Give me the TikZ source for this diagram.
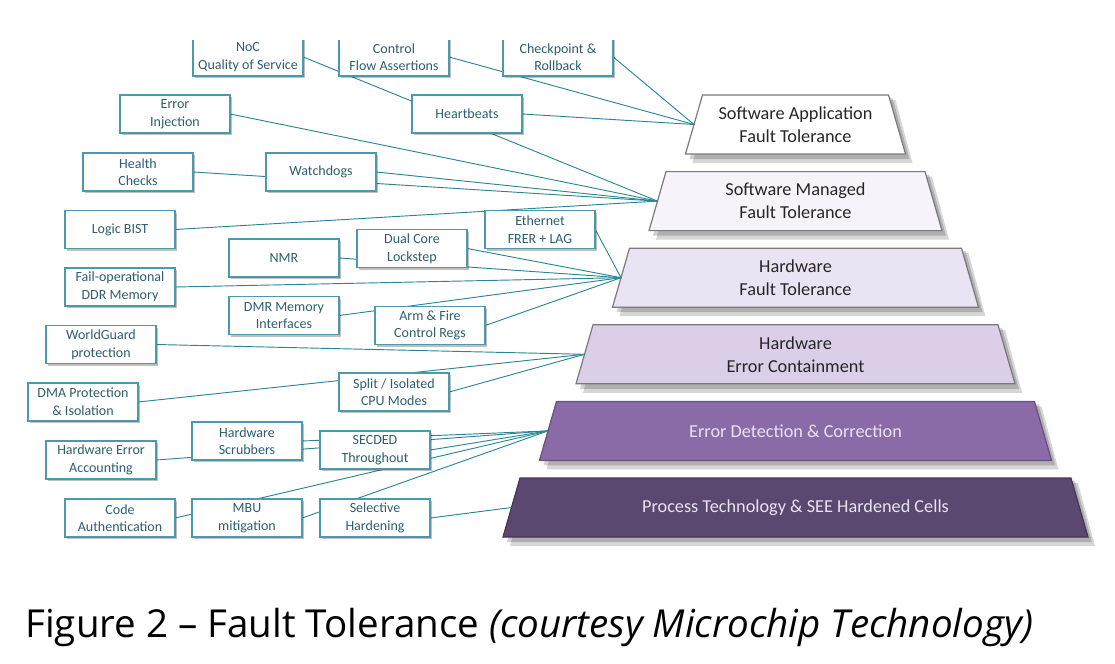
\documentclass[tikz,border=0pt]{standalone}
\usepackage{fontspec}
\setmainfont{Carlito}
\newfontfamily\capfont{Open Sans}
\usetikzlibrary{shadows}
\definecolor{boxc}{HTML}{4A9AAB}
\definecolor{linec}{HTML}{2B8597}
\definecolor{boxtext}{HTML}{2E5E6E}
\definecolor{laytext}{HTML}{262626}
\definecolor{layA}{HTML}{FFFFFF}
\definecolor{layB}{HTML}{F6F3FB}
\definecolor{layC}{HTML}{EAE3F3}
\definecolor{layD}{HTML}{DACFE6}
\definecolor{layE}{HTML}{8A6BA8}
\definecolor{layF}{HTML}{5B4870}
\definecolor{layborder}{HTML}{7A7A7A}
\definecolor{lighttext}{HTML}{E8E3F0}
\newcommand{\pyrlayer}[7]{%
  \pgfmathsetmacro{\lyt}{95+76.6*#2}
  \pgfmathsetmacro{\lyb}{\lyt+59}
  \pgfmathsetmacro{\lhb}{110+36.5*#2}
  \pgfmathsetmacro{\lht}{\lhb-17}
  \fill[black, opacity=0.16] (802.5-\lht,\lyt+5) -- (802.5+\lht,\lyt+5) -- (802.5+\lhb,\lyb+9) -- (802.5-\lhb,\lyb+9) -- cycle;
  \fill[black, opacity=0.18] (799.5-\lht,\lyt+3) -- (799.5+\lht,\lyt+3) -- (799.5+\lhb,\lyb+5) -- (799.5-\lhb,\lyb+5) -- cycle;
  \draw[fill=#3, draw=#4, line width=0.9pt] (795.5-\lht,\lyt) -- (795.5+\lht,\lyt) -- (795.5+\lhb,\lyb) -- (795.5-\lhb,\lyb) -- cycle;
  \node[text=#5, layfont, align=center] (#1) at (795.5,\lyt+29.5) {#6};
  \coordinate (#7) at (795.5-\lhb+8.5,\lyt+29.5);
}
\begin{document}
\begin{tikzpicture}[x=0.75pt,y=-0.75pt,
  fbox/.style={draw=boxc, fill=white, line width=0.8pt, text=boxtext,
    minimum width=82.5pt, minimum height=28.5pt, inner sep=0pt, align=center,
    font=\fontsize{10.5}{13.2}\selectfont,
    drop shadow={shadow xshift=1.6pt, shadow yshift=-1.6pt, fill=black, opacity=0.25}},
  layfont/.style={font=\fontsize{13.7}{17.2}\selectfont},
  conn/.style={draw=linec, line width=0.7pt}]
\useasboundingbox (0,0) rectangle (1115,664);

% pyramid layers
\pyrlayer{swapp}{0}{layA}{layborder}{laytext}{Software Application\\Fault Tolerance}{L1in}
\pyrlayer{swman}{1}{layB}{layborder}{laytext}{Software Managed\\Fault Tolerance}{L2in}
\pyrlayer{hwft}{2}{layC}{layborder}{laytext}{Hardware\\Fault Tolerance}{L3in}
\pyrlayer{hwec}{3}{layD}{layborder}{laytext}{Hardware\\Error Containment}{L4in}
\pyrlayer{edc}{4}{layE}{layE!75!black}{lighttext}{Error Detection \& Correction}{L5in}
\pyrlayer{proc}{5}{layF}{layF!75!black}{lighttext}{Process Technology \& SEE Hardened Cells}{L6in}

% box positions
\coordinate (p-noc) at (248,57);
\coordinate (p-cfa) at (394,57);
\coordinate (p-cp) at (558,57);
\coordinate (p-ei) at (175,114);
\coordinate (p-hb) at (467,114);
\coordinate (p-hc) at (138,172);
\coordinate (p-wd) at (321,172);
\coordinate (p-lb) at (120,229.5);
\coordinate (p-eth) at (540,229.5);
\coordinate (p-nmr) at (284,258);
\coordinate (p-dc) at (412,248.5);
\coordinate (p-ddr) at (120,287);
\coordinate (p-dmr) at (284,315.5);
\coordinate (p-af) at (430,325.5);
\coordinate (p-wg) at (101,344.5);
\coordinate (p-dma) at (83,402);
\coordinate (p-split) at (394,392);
\coordinate (p-scr) at (247,441);
\coordinate (p-sec) at (375,450);
\coordinate (p-hea) at (101,460);
\coordinate (p-ca) at (120,518);
\coordinate (p-mbu) at (247,518);
\coordinate (p-sel) at (375,518);

% invisible anchors of the boxes
\begin{scope}[every node/.style={minimum width=82.5pt, minimum height=28.5pt, inner sep=0pt}]
\path node (noc) at (p-noc) {} node (cfa) at (p-cfa) {} node (cp) at (p-cp) {}
  node (ei) at (p-ei) {} node (hb) at (p-hb) {} node (hc) at (p-hc) {}
  node (wd) at (p-wd) {} node (lb) at (p-lb) {} node (eth) at (p-eth) {}
  node (nmr) at (p-nmr) {} node (dc) at (p-dc) {} node (ddr) at (p-ddr) {}
  node (dmr) at (p-dmr) {} node (af) at (p-af) {} node (wg) at (p-wg) {}
  node (dma) at (p-dma) {} node (split) at (p-split) {} node (scr) at (p-scr) {}
  node (sec) at (p-sec) {} node (hea) at (p-hea) {} node (ca) at (p-ca) {}
  node (mbu) at (p-mbu) {} node (sel) at (p-sel) {};
\end{scope}

% connectors
\draw[conn] (cfa.east) -- (L1in);
\draw[conn] (cp.east) -- (L1in);
\draw[conn] (hb.east) -- (L1in);
\draw[conn] (noc.east) -- (L2in);
\draw[conn] (ei.east) -- (L2in);
\draw[conn] (wd.east) -- (L2in);
\draw[conn] (hc.east) -- (L2in);
\draw[conn] (lb.east) -- (L2in);
\draw[conn] (eth.east) -- (L3in);
\draw[conn] (dc.east) -- (L3in);
\draw[conn] (nmr.east) -- (L3in);
\draw[conn] (ddr.east) -- (L3in);
\draw[conn] (dmr.east) -- (L3in);
\draw[conn] (af.east) -- (L3in);
\draw[conn] (wg.east) -- (L4in);
\draw[conn] (dma.east) -- (L4in);
\draw[conn] (split.east) -- (L4in);
\draw[conn] (hea.east) -- (L5in);
\draw[conn] (scr.east) -- (L5in);
\draw[conn] (sec.east) -- (L5in);
\draw[conn] (ca.east) -- (L5in);
\draw[conn] (mbu.east) -- (L5in);
\draw[conn] (sel.east) -- (L6in);

% visible boxes
\node[fbox] (bnoc) at (p-noc) {NoC\\Quality of Service};
\node[fbox] (bcfa) at (p-cfa) {Control\\Flow Assertions};
\node[fbox] (bcp) at (p-cp) {Checkpoint \&\\Rollback};
\node[fbox] (bei) at (p-ei) {Error\\Injection};
\node[fbox] (bhb) at (p-hb) {Heartbeats};
\node[fbox] (bhc) at (p-hc) {Health\\Checks};
\node[fbox] (bwd) at (p-wd) {Watchdogs};
\node[fbox] (blb) at (p-lb) {Logic BIST};
\node[fbox] (beth) at (p-eth) {Ethernet\\FRER + LAG};
\node[fbox] (bnmr) at (p-nmr) {NMR};
\node[fbox] (bdc) at (p-dc) {Dual Core\\Lockstep};
\node[fbox] (bddr) at (p-ddr) {Fail-operational\\DDR Memory};
\node[fbox] (bdmr) at (p-dmr) {DMR Memory\\Interfaces};
\node[fbox] (baf) at (p-af) {Arm \& Fire\\Control Regs};
\node[fbox] (bwg) at (p-wg) {WorldGuard\\protection};
\node[fbox] (bdma) at (p-dma) {DMA Protection\\\& Isolation};
\node[fbox] (bsplit) at (p-split) {Split / Isolated\\CPU Modes};
\node[fbox] (bscr) at (p-scr) {Hardware\\Scrubbers};
\node[fbox] (bsec) at (p-sec) {SECDED\\Throughout};
\node[fbox] (bhea) at (p-hea) {Hardware Error\\Accounting};
\node[fbox] (bca) at (p-ca) {Code\\Authentication};
\node[fbox] (bmbu) at (p-mbu) {MBU\\mitigation};
\node[fbox] (bsel) at (p-sel) {Selective\\Hardening};

% crop at the top edge
\fill[white] (0,0) rectangle (1115,39.6);

% caption
\node[anchor=base west, inner sep=0pt, font=\capfont\fontsize{28.9}{34}\selectfont] (cap) at (25,637)
  {Figure 2 – Fault Tolerance {\itshape (courtesy Microchip Technology)}};
\end{tikzpicture}
\end{document}
